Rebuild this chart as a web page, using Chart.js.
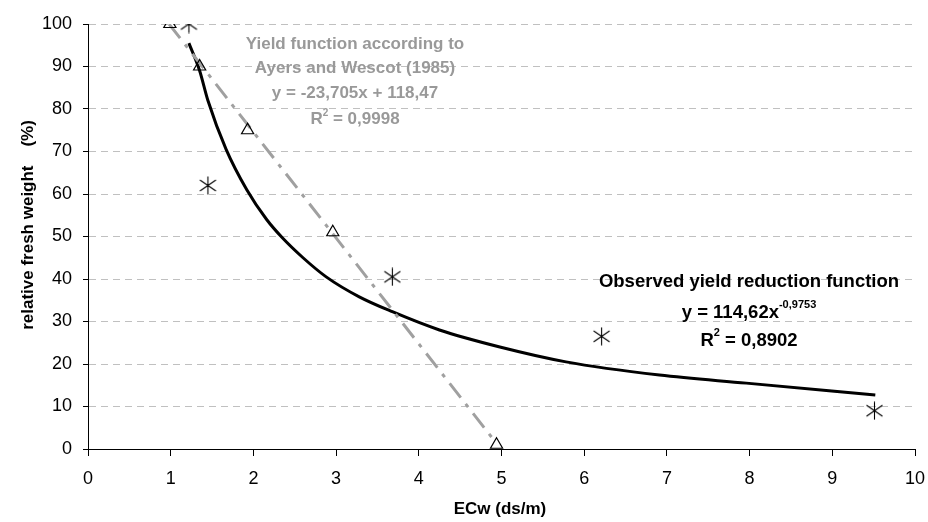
<!DOCTYPE html>
<html>
<head>
<meta charset="utf-8">
<script src="https://cdn.jsdelivr.net/npm/chart.js@4/dist/chart.umd.min.js"></script>
<style>
  html, body { margin: 0; padding: 0; background: #fff; }
  #chart { display: block; }
</style>
</head>
<body>
<canvas id="chart" width="928" height="522"></canvas>
<script>
// Measured points, Ayers & Wescot (1985) reference values (triangles)
const ayersX = [0.99, 1.35, 1.93, 2.96, 4.94];
const ayersY = [100, 90, 75, 51, 1];

// Observed relative fresh weight (asterisks)
const observedX = [1.22, 1.45, 3.68, 6.21, 9.51];
const observedY = [100, 62, 40.5, 26.5, 9];

// Power trendline
const trendX = [1.22, 1.35, 1.45, 1.67, 1.92, 2.16, 2.35, 2.6, 2.88, 3.28, 3.68, 4.25, 4.98, 5.78, 6.91, 7.96, 9.52];
const trendY = [95.5, 89, 82, 70.5, 61, 54, 49.7, 45, 40.5, 35.8, 32.3, 28, 24, 20.5, 17.4, 15.5, 12.7];

// Linear reference line (dash-dot)
const ayersLineX = [0.98, 4.88];
const ayersLineY = [100, 2.8];

// Axis ticks
const xTicks = [0, 1, 2, 3, 4, 5, 6, 7, 8, 9, 10];
const yTicks = [0, 10, 20, 30, 40, 50, 60, 70, 80, 90, 100];

const FONT = '"Liberation Sans", Arial, sans-serif';

function toPoints(xs, ys) {
    return xs.map((x, i) => ({ x: x, y: ys[i] }));
}

// Six-armed asterisk marker
function makeStar() {
    const c = document.createElement('canvas');
    c.width = 19;
    c.height = 19;
    const g = c.getContext('2d');
    g.strokeStyle = '#000';
    g.lineWidth = 1.1;
    g.beginPath();
    g.moveTo(9.5, 0.5); g.lineTo(9.5, 18.5);
    g.moveTo(1.5, 4); g.lineTo(17.5, 15);
    g.moveTo(1.5, 15); g.lineTo(17.5, 4);
    g.stroke();
    return c;
}

// Draw a line of text with optional superscript parts, centred on cx
function drawRich(ctx, parts, cx, cy, size, color) {
    const supSize = Math.round(size * 0.6);
    let total = 0;
    parts.forEach(p => {
        ctx.font = 'bold ' + (p.sup ? supSize : size) + 'px ' + FONT;
        p.w = ctx.measureText(p.t).width;
        total += p.w;
    });
    let x = cx - total / 2;
    ctx.fillStyle = color;
    ctx.textAlign = 'left';
    ctx.textBaseline = 'alphabetic';
    const base = cy + size * 0.36;
    parts.forEach(p => {
        ctx.font = 'bold ' + (p.sup ? supSize : size) + 'px ' + FONT;
        ctx.fillText(p.t, x, p.sup ? base - size * 0.5 : base);
        x += p.w;
    });
}

const labelsPlugin = {
    id: 'labels',
    afterDraw(chart) {
        const ctx = chart.ctx;
        ctx.save();
        // Ayers & Wescot block
        const grey = '#999999';
        drawRich(ctx, [{ t: 'Yield function according to' }], 355, 43, 17, grey);
        drawRich(ctx, [{ t: 'Ayers and Wescot (1985)' }], 355, 67, 17, grey);
        drawRich(ctx, [{ t: 'y = -23,705x + 118,47' }], 355, 92, 17, grey);
        drawRich(ctx, [{ t: 'R' }, { t: '2', sup: true }, { t: ' = 0,9998' }], 355, 118, 17, grey);

        // Observed block
        drawRich(ctx, [{ t: 'Observed yield reduction function' }], 749, 280, 18.5, '#000');
        drawRich(ctx, [{ t: 'y = 114,62x' }, { t: '-0,9753', sup: true }], 749, 311, 18.5, '#000');
        drawRich(ctx, [{ t: 'R' }, { t: '2', sup: true }, { t: ' = 0,8902' }], 749, 339, 18.5, '#000');

        // Axis titles
        drawRich(ctx, [{ t: 'ECw (ds/m)' }], 500, 508, 17, '#000');
        ctx.translate(27, 225);
        ctx.rotate(-Math.PI / 2);
        drawRich(ctx, [{ t: 'relative fresh weight    (%)' }], 0, 0, 17, '#000');
        ctx.restore();
    }
};

new Chart(document.getElementById('chart'), {
    type: 'scatter',
    data: {
        datasets: [
            {
                label: 'Observed trend',
                data: toPoints(trendX, trendY),
                showLine: true,
                borderColor: '#000',
                borderWidth: 3,
                pointRadius: 0,
                cubicInterpolationMode: 'monotone',
                order: 4
            },
            {
                label: 'Ayers and Wescot line',
                data: toPoints(ayersLineX, ayersLineY),
                showLine: true,
                borderColor: '#a0a0a0',
                borderWidth: 3,
                borderDash: [18, 8, 4, 8],
                pointRadius: 0,
                order: 3
            },
            {
                label: 'Ayers and Wescot',
                data: toPoints(ayersX, ayersY),
                pointStyle: 'triangle',
                pointRadius: 7,
                borderColor: '#000',
                borderWidth: 1.2,
                backgroundColor: 'rgba(0,0,0,0)',
                order: 2
            },
            {
                label: 'Observed',
                data: toPoints(observedX, observedY),
                pointStyle: makeStar(),
                pointRadius: 9,
                order: 1
            }
        ]
    },
    options: {
        responsive: false,
        animation: false,
        devicePixelRatio: 1,
        layout: { autoPadding: false, padding: { top: 24, right: 13, left: 0, bottom: 0 } },
        plugins: { legend: { display: false }, tooltip: { enabled: false } },
        scales: {
            x: {
                type: 'linear',
                min: 0,
                max: 10,
                afterBuildTicks: s => { s.ticks = xTicks.map(v => ({ value: v })); },
                afterFit: s => { s.height = 73; s.paddingLeft = 0; s.paddingRight = 0; },
                grid: { drawOnChartArea: false, drawTicks: true, tickLength: 7, tickColor: '#000' },
                border: { color: '#000', width: 1 },
                ticks: { color: '#000', padding: 12, font: { family: FONT, size: 18 } }
            },
            y: {
                min: 0,
                max: 100,
                afterBuildTicks: s => { s.ticks = yTicks.map(v => ({ value: v })); },
                afterFit: s => { s.width = 88; s.paddingTop = 0; s.paddingBottom = 0; },
                grid: { color: '#c0c0c0', lineWidth: 1, tickLength: 5, tickColor: '#000', tickBorderDash: [] },
                border: { color: '#000', width: 1, dash: [7, 5] },
                ticks: { color: '#000', padding: 11, font: { family: FONT, size: 18 } }
            }
        }
    },
    plugins: [labelsPlugin]
});
</script>
</body>
</html>
